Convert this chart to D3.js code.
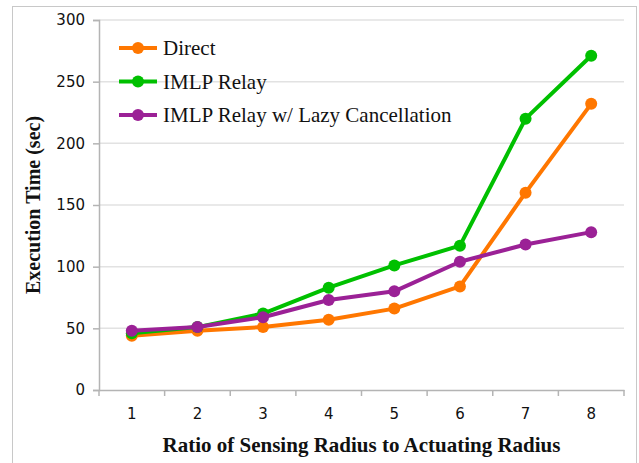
<!DOCTYPE html>
<html>
<head>
<meta charset="utf-8">
<script src="https://cdn.jsdelivr.net/npm/d3@7"></script>
<style>
  body { margin: 0; background: #fff; }
  svg { display: block; }
</style>
</head>
<body>
<div id="app"></div>
<script>
const ratios = [1, 2, 3, 4, 5, 6, 7, 8];
const seriesNames = ['Direct', 'IMLP Relay', 'IMLP Relay w/ Lazy Cancellation'];
const direct = [44, 48, 51, 57, 66, 84, 160, 232];
const imlpRelay = [46, 51, 62, 83, 101, 117, 220, 271];
const lazyCancel = [48, 51, 59, 73, 80, 104, 118, 128];
const yTicks = [0, 50, 100, 150, 200, 250, 300];
const colors = ['#ff7700', '#00c000', '#9b2196'];

const width = 639;
const height = 463;
const margin = { top: 20, right: 15, bottom: 72, left: 99 };

const svg = d3.select('#app').append('svg')
  .attr('width', width)
  .attr('height', height);

// light frame round the whole chart
svg.append('rect')
  .attr('x', 12.5)
  .attr('y', 6.5)
  .attr('width', 624)
  .attr('height', 470)
  .attr('fill', 'none')
  .attr('stroke', '#c8c8c8');

const chartWidth = width - margin.left - margin.right;
const chartHeight = height - margin.top - margin.bottom - 1;

const g = svg.append('g')
  .attr('transform', `translate(${margin.left}, ${margin.top})`);

const xScale = d3.scaleBand().domain(ratios).range([0, chartWidth]);
const yScale = d3.scaleLinear().domain([0, 300]).range([chartHeight, 0]);

// gridlines
g.append('g')
  .selectAll('line')
  .data(yTicks.filter(d => d > 0))
  .enter()
  .append('line')
  .attr('x1', 0)
  .attr('x2', chartWidth)
  .attr('y1', d => yScale(d))
  .attr('y2', d => yScale(d))
  .attr('stroke', '#e2e2e2')
  .attr('stroke-width', 1.5);

// y axis
const yAxis = d3.axisLeft(yScale).tickValues(yTicks).tickSize(6).tickPadding(8);
const yAxisGroup = g.append('g').call(yAxis);

// x axis: ticks sit on the category boundaries
const xAxisGroup = g.append('g').attr('transform', `translate(0, ${chartHeight})`);
const xAxis = d3.axisBottom(xScale).tickSize(0).tickPadding(18);
xAxisGroup.call(xAxis);
xAxisGroup.selectAll('.boundary')
  .data(d3.range(ratios.length + 1))
  .enter()
  .append('line')
  .attr('class', 'boundary')
  .attr('x1', i => i * xScale.bandwidth())
  .attr('x2', i => i * xScale.bandwidth())
  .attr('y1', 0)
  .attr('y2', 6);

[yAxisGroup, xAxisGroup].forEach(ax => {
  ax.select('.domain').attr('stroke', '#b4b4b4').attr('stroke-width', 1.5);
  ax.selectAll('line').attr('stroke', '#b4b4b4').attr('stroke-width', 1.5);
  ax.selectAll('text')
    .attr('font-family', '"DejaVu Sans", Verdana, sans-serif')
    .attr('font-size', 15)
    .attr('fill', '#111');
});

const xPos = d => xScale(d) + xScale.bandwidth() / 2;

const lineFunc = d3.line()
  .x((d, i) => xPos(ratios[i]))
  .y(d => yScale(d));

const allSeries = [direct, imlpRelay, lazyCancel];

// draw later series on top, as in the original
allSeries.forEach((values, s) => {
  const sg = g.append('g');
  sg.append('path')
    .attr('d', lineFunc(values))
    .attr('fill', 'none')
    .attr('stroke', colors[s])
    .attr('stroke-width', 4)
    .attr('stroke-linejoin', 'round');
  sg.selectAll('circle')
    .data(values)
    .enter()
    .append('circle')
    .attr('cx', (d, i) => xPos(ratios[i]))
    .attr('cy', d => yScale(d))
    .attr('r', 6)
    .attr('fill', colors[s]);
});

// legend
const legend = svg.append('g').attr('transform', 'translate(119, 48)');
const legendItems = legend.selectAll('g')
  .data(seriesNames)
  .enter()
  .append('g')
  .attr('transform', (d, i) => `translate(0, ${i * 33.5})`);
legendItems.append('line')
  .attr('x1', 0).attr('x2', 38)
  .attr('stroke', (d, i) => colors[i])
  .attr('stroke-width', 4);
legendItems.append('circle')
  .attr('cx', 19)
  .attr('r', 6)
  .attr('fill', (d, i) => colors[i]);
legendItems.append('text')
  .attr('x', 44)
  .attr('y', 7)
  .attr('font-family', '"Liberation Serif", "Times New Roman", serif')
  .attr('font-size', 21)
  .attr('fill', '#111')
  .text(d => d);

// axis titles
svg.append('text')
  .attr('x', margin.left + chartWidth / 2)
  .attr('y', 452)
  .attr('text-anchor', 'middle')
  .attr('font-family', '"Liberation Serif", "Times New Roman", serif')
  .attr('font-weight', 'bold')
  .attr('font-size', 21)
  .attr('fill', '#111')
  .text('Ratio of Sensing Radius to Actuating Radius');

svg.append('text')
  .attr('transform', `translate(40, ${margin.top + chartHeight / 2}) rotate(-90)`)
  .attr('text-anchor', 'middle')
  .attr('font-family', '"Liberation Serif", "Times New Roman", serif')
  .attr('font-weight', 'bold')
  .attr('font-size', 20)
  .attr('fill', '#111')
  .text('Execution Time (sec)');
</script>
</body>
</html>
